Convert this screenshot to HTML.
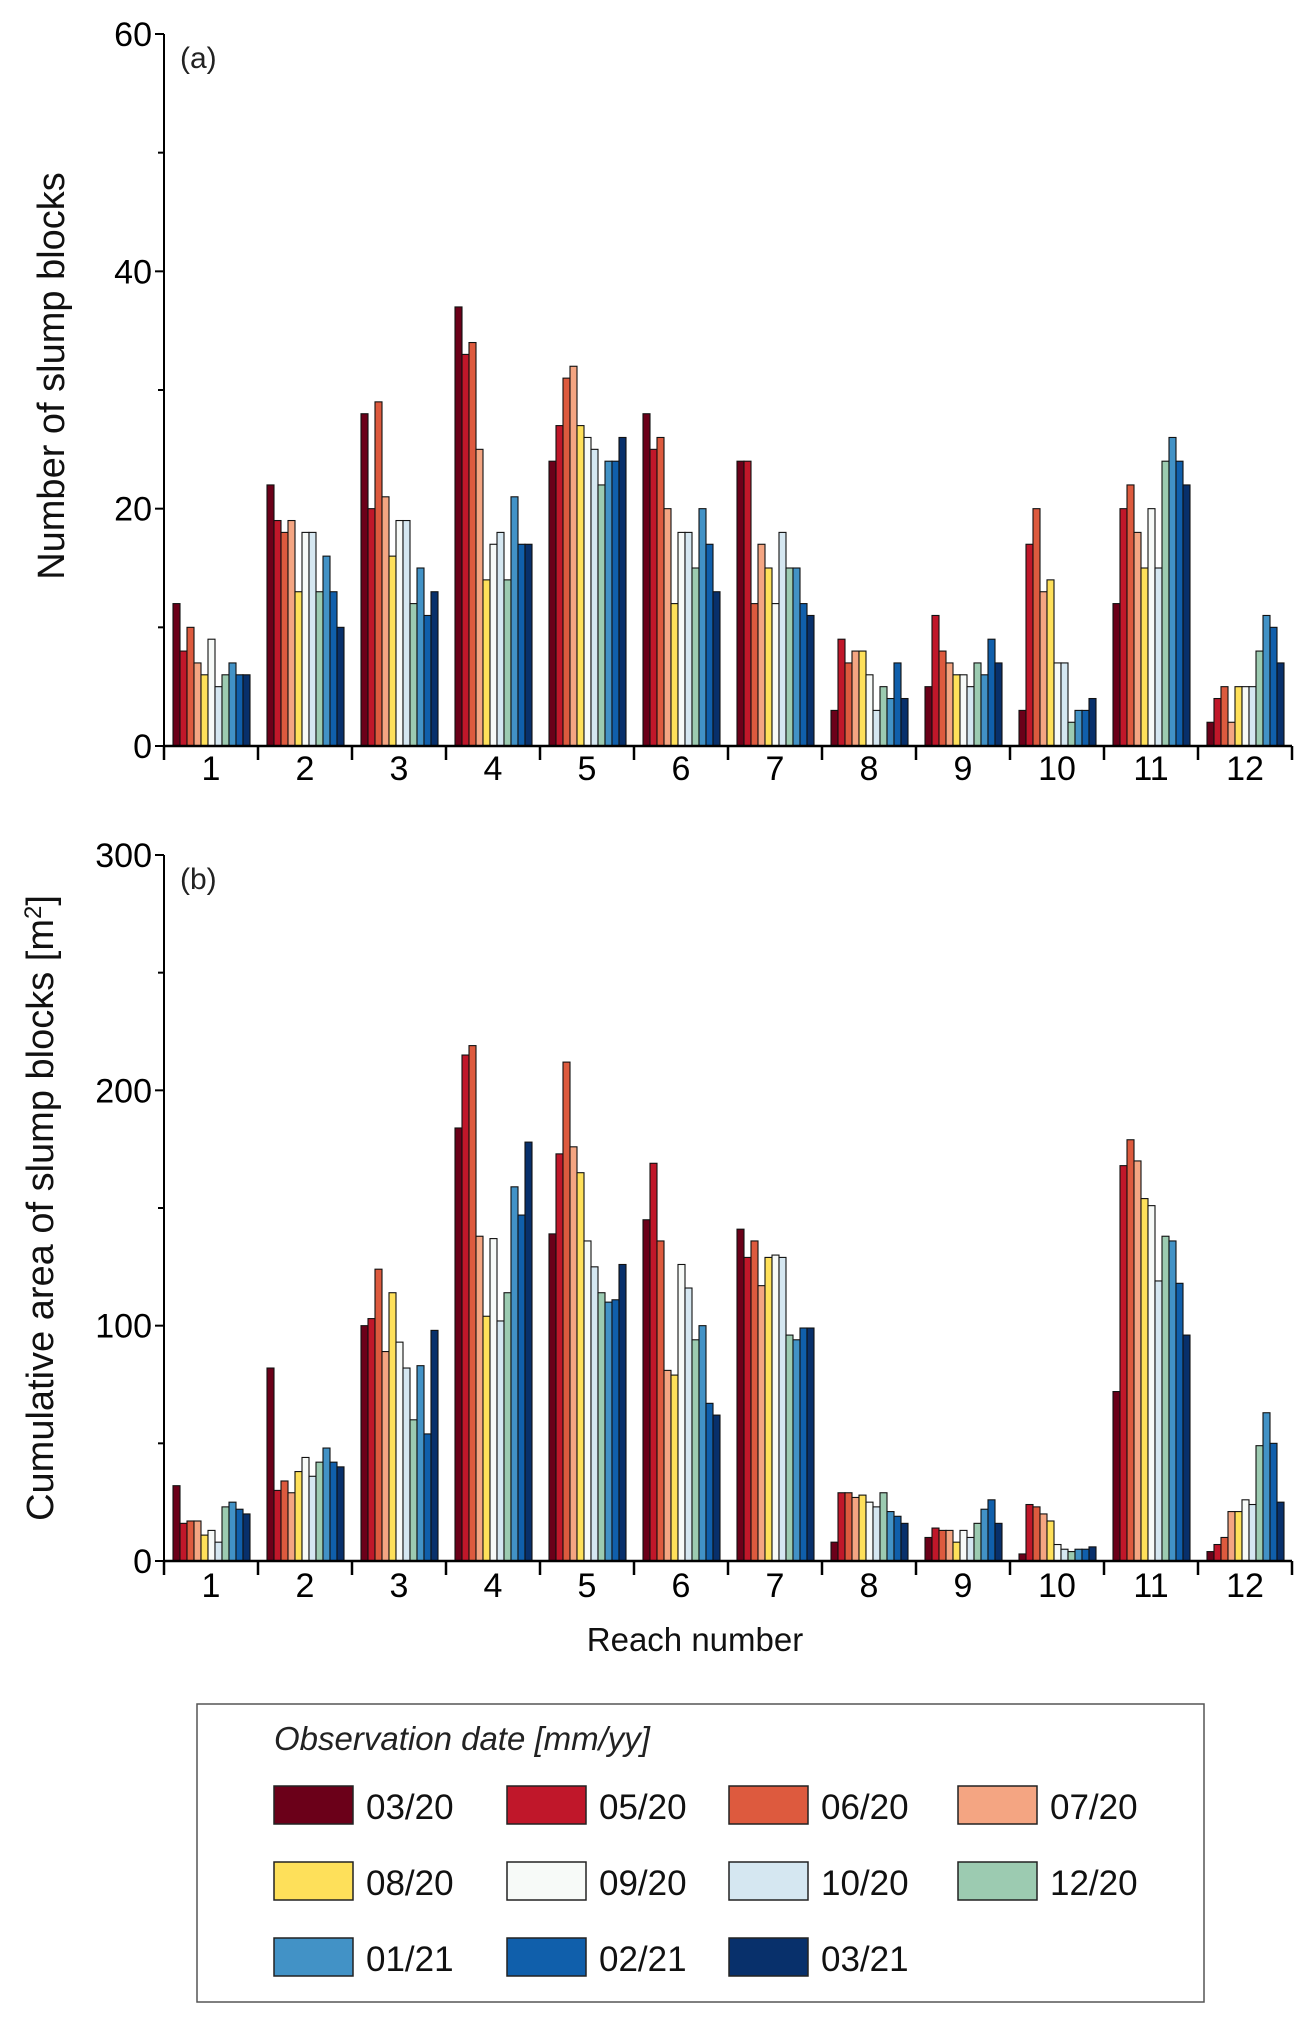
<!DOCTYPE html>
<html><head><meta charset="utf-8"><style>
html,body{margin:0;padding:0;background:#fff}
svg{display:block;font-family:"Liberation Sans",sans-serif}
</style></head><body>
<svg id="chart" width="1312" height="2023" viewBox="0 0 1312 2023">
<g id="plots"></g>
<g id="legend"></g>
</svg>
<script>
const reaches = ['1','2','3','4','5','6','7','8','9','10','11','12'];
const dates = ['03/20','05/20','06/20','07/20','08/20','09/20','10/20','12/20','01/21','02/21','03/21'];
const colors = ['#6b0019','#c0172a','#dd5a3e','#f4a582','#fee05a','#f7faf8','#d5e7f1','#9ccbb1','#4292c6','#105fab','#08306b'];
const countTicks = [0,20,40,60];
const areaTicks = [0,100,200,300];
const counts = [
 [12,8,10,7,6,9,5,6,7,6,6],
 [22,19,18,19,13,18,18,13,16,13,10],
 [28,20,29,21,16,19,19,12,15,11,13],
 [37,33,34,25,14,17,18,14,21,17,17],
 [24,27,31,32,27,26,25,22,24,24,26],
 [28,25,26,20,12,18,18,15,20,17,13],
 [24,24,12,17,15,12,18,15,15,12,11],
 [3,9,7,8,8,6,3,5,4,7,4],
 [5,11,8,7,6,6,5,7,6,9,7],
 [3,17,20,13,14,7,7,2,3,3,4],
 [12,20,22,18,15,20,15,24,26,24,22],
 [2,4,5,2,5,5,5,8,11,10,7]
];
const areas = [
 [32,16,17,17,11,13,8,23,25,22,20],
 [82,30,34,29,38,44,36,42,48,42,40],
 [100,103,124,89,114,93,82,60,83,54,98],
 [184,215,219,138,104,137,102,114,159,147,178],
 [139,173,212,176,165,136,125,114,110,111,126],
 [145,169,136,81,79,126,116,94,100,67,62],
 [141,129,136,117,129,130,129,96,94,99,99],
 [8,29,29,27,28,25,23,29,21,19,16],
 [10,14,13,13,8,13,10,16,22,26,16],
 [3,24,23,20,17,7,5,4,5,5,6],
 [72,168,179,170,154,151,119,138,136,118,96],
 [4,7,10,21,21,26,24,49,63,50,25]
];
const NS='http://www.w3.org/2000/svg';
function mk(tag,attrs,parent,text){const e=document.createElementNS(NS,tag);for(const k in attrs)e.setAttribute(k,attrs[k]);if(text!==undefined)e.textContent=text;parent.appendChild(e);return e;}
const plots=document.getElementById('plots');
function drawPanel(cfg){
  const g=mk('g',{},plots);
  
  
  const x0=164, step=94, yTop=cfg.yTop, yBot=cfg.yBot, max=cfg.ticks[cfg.ticks.length-1];
  const y=v=>yBot-(v/max)*(yBot-yTop);
  const bx=(ri,si)=>x0+ri*step+9+si*7;
  cfg.data.forEach((row,ri)=>{
    row.forEach((v,si)=>{
      const r=mk('rect',{x:bx(ri,si),y:y(v),width:7,height:yBot-y(v),fill:colors[si],stroke:'#111','stroke-width':1.1},g);
      
      
    });
  });
  const ya=mk('line',{x1:x0,y1:yTop,x2:x0,y2:yBot,stroke:'#000','stroke-width':2},g);
  
  
  const xa=mk('line',{x1:x0,y1:yBot,x2:x0+12*step,y2:yBot,stroke:'#000','stroke-width':2.5},g);
  
  
  cfg.ticks.forEach((t,i)=>{
    mk('line',{x1:x0-9,y1:y(t),x2:x0,y2:y(t),stroke:'#000','stroke-width':2},g);
    const lt=mk('text',{x:x0-12,y:y(t)+12,'text-anchor':'end','font-size':34,fill:'#000'},g,String(t));
    
    
    if(i<cfg.ticks.length-1){const m=(t+cfg.ticks[i+1])/2;mk('line',{x1:x0-6,y1:y(m),x2:x0,y2:y(m),stroke:'#000','stroke-width':2},g);}
  });
  for(let i=0;i<=12;i++){mk('line',{x1:x0+i*step,y1:yBot,x2:x0+i*step,y2:yBot+14,stroke:'#000','stroke-width':2.5},g);}
  reaches.forEach((r,i)=>{
    const t=mk('text',{x:x0+i*step+step/2,y:yBot+cfg.tickDy,'text-anchor':'middle','font-size':34,fill:'#000'},g,r);
    
    
  });
  const pl=mk('text',{x:180,y:yTop+34,'font-size':30,fill:'#222'},g,cfg.panel);
  
  
  const yt=mk('text',{x:0,y:0,transform:`translate(${cfg.titleX},${cfg.titleY}) rotate(-90)`,'text-anchor':'middle','font-size':cfg.titleSize,fill:'#111'},g);
  yt.innerHTML=cfg.title;
  
  
}
drawPanel({name:'panel-a-counts',data:counts,ticks:countTicks,yTop:34,yBot:746,panel:'(a)',title:'Number of slump blocks',titleX:64,titleY:376,titleSize:38,tickDy:34});
drawPanel({name:'panel-b-area',data:areas,ticks:areaTicks,yTop:855,yBot:1561,panel:'(b)',title:'Cumulative area of slump blocks [m<tspan dy="-12" font-size="24">2</tspan><tspan dy="12">]</tspan>',titleX:53,titleY:1208,titleSize:38,tickDy:36});
const xt=mk('text',{x:695,y:1651,'text-anchor':'middle','font-size':33,fill:'#111'},plots,'Reach number');


const lg=document.getElementById('legend');


mk('rect',{x:197,y:1704,width:1007,height:298,fill:'#fff',stroke:'#555','stroke-width':1.5},lg);
const lt=mk('text',{x:274,y:1750,'font-size':33,'font-style':'italic',fill:'#222'},lg,'Observation date [mm/yy]');


const colX=[274,507,729,958], rowY=[1786,1862,1938];
dates.forEach((d,i)=>{
  const cx=colX[i%4], cy=rowY[Math.floor(i/4)];
  const e=mk('g',{},lg);
  
  
  mk('rect',{x:cx,y:cy,width:79,height:38,fill:colors[i],stroke:'#222','stroke-width':1.5},e);
  mk('text',{x:cx+92,y:cy+33,'font-size':35,fill:'#111'},e,d);
});
</script>
</body></html>
